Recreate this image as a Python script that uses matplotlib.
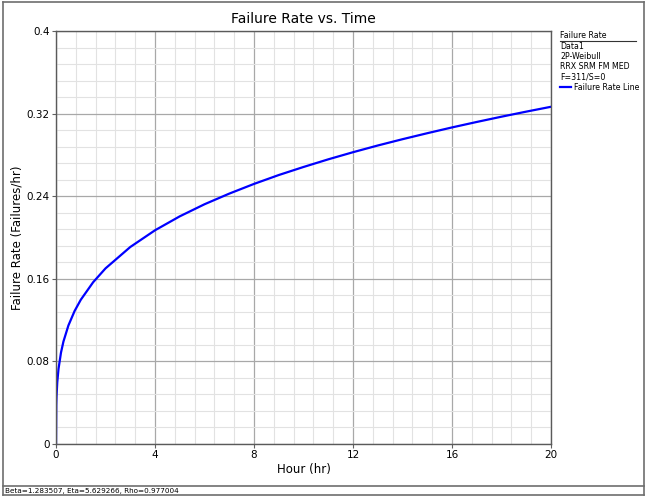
import matplotlib
matplotlib.use("Agg")
import matplotlib.pyplot as plt
from matplotlib import ticker
from matplotlib.lines import Line2D

# failure rate curve (hours, failures/hr)
hours = [0, 0.01, 0.02, 0.05, 0.1, 0.2, 0.3, 0.5, 0.75, 1, 1.5, 2, 3, 4, 5, 6, 7,
         8, 9, 10, 11, 12, 13, 14, 15, 16, 17, 18, 19, 20]
rate = [0, 0.0378, 0.0461, 0.0598, 0.0727, 0.0885, 0.0993, 0.1148, 0.1288, 0.1397,
        0.1567, 0.1701, 0.1908, 0.2070, 0.2205, 0.2322, 0.2425, 0.2519, 0.2605,
        0.2683, 0.2757, 0.2826, 0.2891, 0.2952, 0.3010, 0.3066, 0.3119, 0.3170,
        0.3219, 0.3266]

x_ticks = [0, 4, 8, 12, 16, 20]
y_ticks = [0, 0.08, 0.16, 0.24, 0.32, 0.4]
y_labels = ["0", "0.08", "0.16", "0.24", "0.32", "0.4"]

legend_lines = ["Data1", "2P-Weibull", "RRX SRM FM MED", "F=311/S=0"]
status_text = "Beta=1.283507, Eta=5.629266, Rho=0.977004"

plt.rcParams['font.family'] = ['DejaVu Sans']

fig = plt.figure(figsize=(6.5, 4.99), dpi=100)
fig.patch.set_facecolor('white')
ax = fig.add_axes([0.0862, 0.1102, 0.7615, 0.8277])

ax.plot(hours, rate, color='#0000ff', linewidth=1.6)

ax.set_xlim(0, 20)
ax.set_ylim(0, 0.4)
ax.set_xticks(x_ticks)
ax.set_yticks(y_ticks)
ax.set_yticklabels(y_labels)
ax.xaxis.set_minor_locator(ticker.AutoMinorLocator(5))
ax.yaxis.set_minor_locator(ticker.AutoMinorLocator(5))
ax.grid(which='major', color='#a8a8a8', linewidth=0.9)
ax.grid(which='minor', color='#e2e2e2', linewidth=0.8)
ax.set_axisbelow(True)
ax.tick_params(which='major', length=3, width=0.8, color='#606060', labelsize=7.5, pad=1.5)
ax.tick_params(which='minor', length=0)
for s in ax.spines.values():
    s.set_color('#5a5a5a')
    s.set_linewidth(1.0)

ax.set_title("Failure Rate vs. Time", fontsize=10, pad=6)
ax.set_xlabel("Hour (hr)", fontsize=8.5, labelpad=2)
ax.set_ylabel("Failure Rate (Failures/hr)", fontsize=8.5, labelpad=2)

# legend panel on the right
fs = 5.7
fig.text(560 / 650, 1 - 35 / 499, "Failure Rate", fontsize=fs, va='center', ha='left')
fig.add_artist(Line2D([560 / 650, 636 / 650], [1 - 40.5 / 499, 1 - 40.5 / 499],
                      color='#333333', linewidth=0.8))
for i, t in enumerate(legend_lines):
    fig.text(560 / 650, 1 - (46.5 + 10.2 * i) / 499, t, fontsize=fs, va='center', ha='left')
ly = 1 - 87 / 499
fig.add_artist(Line2D([560 / 650, 571 / 650], [ly, ly], color='#0000ff', linewidth=1.6))
fig.text(574 / 650, ly, "Failure Rate Line", fontsize=fs, va='center', ha='left')

# outer frame and status bar
frame = dict(color='#6e6e6e', linewidth=1.2)
fig.add_artist(Line2D([3 / 650, 644 / 650], [1 - 2 / 499, 1 - 2 / 499], **frame))
fig.add_artist(Line2D([3 / 650, 3 / 650], [1 - 2 / 499, 1 - 495 / 499], **frame))
fig.add_artist(Line2D([644 / 650, 644 / 650], [1 - 2 / 499, 1 - 495 / 499], **frame))
fig.add_artist(Line2D([3 / 650, 644 / 650], [1 - 486 / 499, 1 - 486 / 499], **frame))
fig.add_artist(Line2D([3 / 650, 644 / 650], [1 - 495 / 499, 1 - 495 / 499], **frame))
fig.text(5 / 650, 1 - 491 / 499, status_text, fontsize=5.2, va='center', ha='left')

fig.savefig("out.png", dpi=100)
plt.close(fig)
